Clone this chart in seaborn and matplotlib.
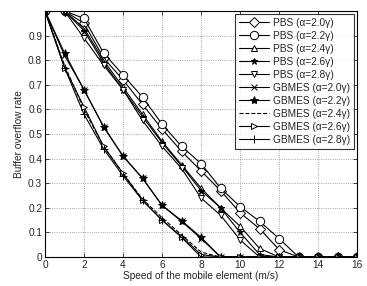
import numpy as np
import pandas as pd
import seaborn as sns
import matplotlib
matplotlib.use('Agg')
import matplotlib.pyplot as plt

# speed of the mobile element (m/s)
speed = list(range(17))

pbs_20 = [1, 1, 0.95, 0.81, 0.72, 0.62, 0.52, 0.43, 0.35, 0.27, 0.18, 0.115, 0.03, 0, 0, 0, 0]
pbs_22 = [1, 1, 0.97, 0.83, 0.74, 0.65, 0.54, 0.45, 0.38, 0.28, 0.205, 0.145, 0.075, 0, 0, 0, 0]
pbs_24 = [1, 1, 0.93, 0.80, 0.69, 0.58, 0.47, 0.375, 0.28, 0.20, 0.125, 0.035, 0, 0, 0, 0, 0]
pbs_26 = [1, 1, 0.92, 0.79, 0.68, 0.57, 0.465, 0.37, 0.27, 0.20, 0.10, 0.01, 0, 0, 0, 0, 0]
pbs_28 = [1, 1, 0.89, 0.78, 0.68, 0.555, 0.45, 0.36, 0.24, 0.17, 0.07, 0, 0, 0, 0, 0, 0]

gbmes_20 = [1, 0.82, 0.68, 0.53, 0.41, 0.32, 0.21, 0.145, 0.075, 0, 0, 0, 0, 0, 0, 0, 0]
gbmes_22 = [1, 0.83, 0.68, 0.53, 0.41, 0.32, 0.21, 0.148, 0.08, 0, 0, 0, 0, 0, 0, 0, 0]
gbmes_24 = [1, 0.78, 0.60, 0.45, 0.34, 0.235, 0.16, 0.09, 0.02, 0, 0, 0, 0, 0, 0, 0, 0]
gbmes_26 = [1, 0.77, 0.61, 0.45, 0.34, 0.23, 0.15, 0.083, 0.01, 0, 0, 0, 0, 0, 0, 0, 0]
gbmes_28 = [1, 0.77, 0.58, 0.44, 0.33, 0.23, 0.15, 0.08, 0, 0, 0, 0, 0, 0, 0, 0, 0]

labels = ['PBS (α=2.0γ)', 'PBS (α=2.2γ)', 'PBS (α=2.4γ)', 'PBS (α=2.6γ)', 'PBS (α=2.8γ)',
          'GBMES (α=2.0γ)', 'GBMES (α=2.2γ)', 'GBMES (α=2.4γ)', 'GBMES (α=2.6γ)', 'GBMES (α=2.8γ)']
series = [pbs_20, pbs_22, pbs_24, pbs_26, pbs_28,
          gbmes_20, gbmes_22, gbmes_24, gbmes_26, gbmes_28]
# (marker, linestyle, filled)
styles = [('D', '-', False), ('o', '-', False), ('^', '-', False), ('*', '-', True), ('v', '-', False),
          ('x', '-', True), ('*', '-', True), ('', '--', True), ('>', '-', False), ('+', '-', True)]
msizes = [5, 6, 5, 5, 5, 4, 6, 0, 5, 6]

sns.set_style('ticks')
plt.rcParams['font.family'] = ['Liberation Sans', 'DejaVu Sans']
fs = 7.3
plt.rcParams['font.size'] = fs

fig = plt.figure(figsize=(3.67, 2.86), dpi=100)
ax = fig.add_axes([0.1226, 0.1014, 0.8504, 0.8601])

for lab, vals, (mk, ls, filled), ms in zip(labels, series, styles, msizes):
    df = pd.DataFrame({'speed': speed, 'rate': vals})
    kw = dict(marker=mk if mk else None, markersize=ms, markeredgecolor='black',
              markeredgewidth=0.7, markerfacecolor='black' if filled else 'white')
    sns.lineplot(data=df, x='speed', y='rate', ax=ax, color='black', linewidth=0.8,
                 linestyle=ls, label=lab, **kw)

ax.set_xlim(0, 16)
ax.set_ylim(0, 1)
ax.set_xticks(np.arange(0, 17, 2))
ax.set_yticks(np.arange(0, 1.0, 0.1))
ax.set_yticklabels(['0'] + [f'{v:.1f}' for v in np.arange(0.1, 1.0, 0.1)])
ax.grid(True, linestyle=':', color='#888888', linewidth=0.6)
ax.tick_params(direction='in', length=3, width=0.6, labelsize=fs, top=True, right=True, pad=2)
for sp in ax.spines.values():
    sp.set_linewidth(0.8)
    sp.set_color('black')
ax.set_xlabel('Speed of the mobile element (m/s)', fontsize=fs, labelpad=1)
ax.set_ylabel('Buffer overflow rate', fontsize=fs, labelpad=3)

leg = ax.legend(loc='upper right', fontsize=fs, frameon=True, fancybox=False,
                edgecolor='black', handlelength=3.0, labelspacing=0.3,
                borderpad=0.35, handletextpad=0.4, borderaxespad=0.3)
leg.get_frame().set_linewidth(0.8)

fig.savefig('out.png', dpi=100)
